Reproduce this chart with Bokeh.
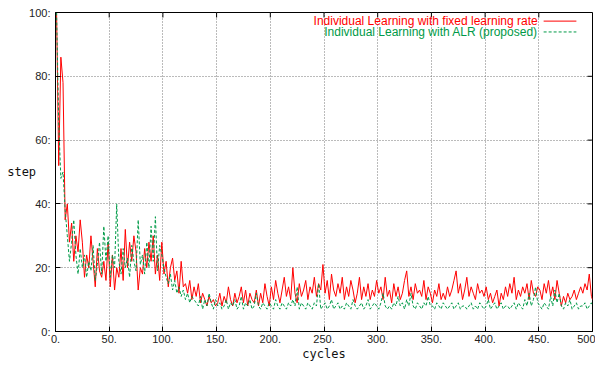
from bokeh.plotting import figure
from bokeh.models import Range1d, FixedTicker, Label
from bokeh.embed import file_html
from bokeh.resources import INLINE

# ---- data ----
cycles = list(range(1, 500, 2)) + [500]

fixed_rate = [
    100, 52, 86, 78, 35,
    40, 28, 34, 22, 30,
    25, 35, 28, 17, 24,
    20, 30, 22, 14, 26,
    19, 17, 22, 16, 28,
    14, 24, 13, 20, 17,
    26, 16, 32, 20, 28,
    22, 30, 25, 13, 20,
    18, 26, 20, 28, 22,
    30, 18, 24, 16, 28,
    18, 22, 14, 20, 23,
    16, 19, 12, 22, 14,
    15, 12, 16, 10, 14,
    11, 15, 9, 12, 10,
    8, 11, 9, 10, 8,
    9, 12, 8, 11, 9,
    14, 10, 8, 12, 9,
    11, 14, 9, 13, 8,
    12, 10, 9, 13, 8,
    12, 9, 15, 11, 8,
    14, 10, 16, 12, 9,
    13, 17, 11, 14, 10,
    20, 12, 9, 15, 11,
    13, 16, 10, 14, 12,
    17, 11, 15, 13, 21,
    12, 16, 10, 18, 13,
    11, 15, 12, 17, 10,
    14, 11, 16, 13, 9,
    12, 17, 10, 14, 11,
    15, 10, 13, 11, 16,
    12, 14, 10, 17, 11,
    13, 9, 15, 11, 14,
    10, 12, 16, 19, 11,
    14, 10, 15, 12, 13,
    11, 16, 10, 14, 12,
    9, 13, 11, 15, 10,
    12, 10, 14, 11, 13,
    16, 19, 12, 15, 10,
    13, 17, 11, 14, 12,
    10, 15, 12, 13, 11,
    14, 10, 12, 9, 11,
    13, 8, 12, 10, 14,
    11, 15, 12, 17, 10,
    13, 11, 14, 12, 15,
    10, 16, 12, 11, 14,
    13, 10, 15, 12, 16,
    11, 14, 10, 16, 12,
    8, 11, 9, 12, 10,
    11, 13, 10, 12, 14,
    12, 15, 13, 18, 11,
    10,
]

alr = [
    100, 65, 48, 50, 38,
    30, 22, 28, 35, 24,
    18, 26, 20, 24, 17,
    22, 19, 27, 16, 21,
    28, 18, 33, 22, 30,
    17, 24, 20, 40, 22,
    18, 26, 20, 23, 17,
    27, 22, 19, 35, 21,
    24, 18, 28, 20, 33,
    22, 36, 19, 27, 24,
    20, 17, 15, 18, 13,
    16, 12, 14, 11, 13,
    10, 12, 9, 11, 10,
    9, 8, 11, 7, 10,
    8, 12, 9, 7, 10,
    8, 9, 7, 8, 10,
    7, 9, 8, 10, 7,
    8, 11, 7, 9, 8,
    10, 7, 8, 12, 8,
    7, 9, 8, 7, 9,
    8, 7, 10, 8, 7,
    9, 8, 7, 9, 8,
    10, 8, 14, 7, 9,
    8, 7, 9, 8, 7,
    9, 8, 15, 7, 8,
    9, 7, 8, 10, 7,
    8, 9, 7, 8, 7,
    9, 8, 7, 10, 8,
    7, 8, 9, 7, 8,
    10, 7, 8, 9, 8,
    7, 9, 12, 8, 7,
    8, 7, 9, 8, 11,
    8, 9, 7, 10, 8,
    12, 8, 7, 9, 8,
    7, 9, 8, 11, 8,
    8, 7, 9, 8, 7,
    9, 8, 7, 8, 9,
    7, 8, 9, 7, 8,
    8, 7, 8, 9, 7,
    8, 7, 9, 8, 7,
    8, 10, 7, 8, 9,
    7, 8, 9, 7, 8,
    8, 7, 8, 9, 7,
    9, 8, 7, 10, 8,
    12, 8, 10, 14, 9,
    8, 7, 9, 8, 7,
    11, 8, 13, 9, 12,
    8, 7, 9, 8, 10,
    7, 8, 9, 7, 8,
    8, 9, 7, 8, 9,
    8,
]

x_ticks = [0, 50, 100, 150, 200, 250, 300, 350, 400, 450, 500]
x_tick_labels = ["0.", "50.", "100.", "150.", "200.", "250.", "300.", "350.", "400.", "450.", "500"]
y_ticks = [0, 20, 40, 60, 80, 100]
y_tick_labels = ["0:", "20:", "40:", "60:", "80:", "100:"]

series_names = ["Individual Learning with fixed learning rate",
                "Individual Learning with ALR (proposed)"]
RED = "#ff0000"
GREEN = "#009a48"
X_MIN, X_MAX, Y_MIN, Y_MAX = 0, 500, 0, 100

# ---- figure ----
FRAME_W, FRAME_H = 537, 319
p = figure(width=595, height=363, output_backend="svg", toolbar_location=None,
           x_range=Range1d(X_MIN, X_MAX), y_range=Range1d(Y_MIN, Y_MAX),
           min_border_left=55, min_border_right=3, min_border_top=12, min_border_bottom=32)
p.background_fill_color = "white"
p.outline_line_color = "black"
p.outline_line_alpha = 1.0

TICK_FONT = "Liberation Sans"
TITLE_FONT = "DejaVu Sans Mono"

for ax in (p.xaxis[0], p.yaxis[0]):
    ax.axis_line_color = "black"
    ax.major_tick_line_color = "black"
    ax.major_tick_in = 5
    ax.major_tick_out = 0
    ax.minor_tick_line_color = None
    ax.major_label_text_font = TICK_FONT
    ax.major_label_text_font_size = "11px"
    ax.major_label_text_color = "#222222"
    ax.axis_label_text_font = TITLE_FONT
    ax.axis_label_text_font_size = "12px"
    ax.axis_label_text_font_style = "normal"
    ax.axis_label_text_color = "#111111"

p.xaxis[0].ticker = FixedTicker(ticks=x_ticks)
p.xaxis[0].major_label_overrides = {t: s for t, s in zip(x_ticks, x_tick_labels)}
p.xaxis[0].major_label_standoff = 3
p.xaxis[0].axis_label = "cycles"
p.xaxis[0].axis_label_standoff = 1

p.yaxis[0].ticker = FixedTicker(ticks=y_ticks)
p.yaxis[0].major_label_overrides = {t: s for t, s in zip(y_ticks, y_tick_labels)}
p.yaxis[0].major_label_standoff = 5
p.yaxis[0].axis_label = "step"
p.yaxis[0].axis_label_orientation = "horizontal"
p.yaxis[0].axis_label_standoff = -10

p.xgrid.ticker = FixedTicker(ticks=x_ticks)
p.ygrid.ticker = FixedTicker(ticks=y_ticks)
for g in (p.xgrid[0], p.ygrid[0]):
    g.grid_line_color = "#777777"
    g.grid_line_dash = "1 2"
    g.grid_line_width = 1

# mirrored inward ticks on the top and right border (5 px long)
tick_dy = 5 * (Y_MAX - Y_MIN) / FRAME_H
tick_dx = 5 * (X_MAX - X_MIN) / FRAME_W
p.segment(x0=x_ticks, y0=[Y_MAX] * len(x_ticks), x1=x_ticks, y1=[Y_MAX - tick_dy] * len(x_ticks),
          line_color="black", line_width=1)
p.segment(x0=[X_MAX] * len(y_ticks), y0=y_ticks, x1=[X_MAX - tick_dx] * len(y_ticks), y1=y_ticks,
          line_color="black", line_width=1)

# data lines
p.line(cycles, fixed_rate, line_color=RED, line_width=1)
p.line(cycles, alr, line_color=GREEN, line_width=1, line_dash="3 2")

# legend (gnuplot style: text then sample)
p.add_layout(Label(x=449, y=97.3, text=series_names[0], text_align="right", text_baseline="middle",
                   text_font=TICK_FONT, text_font_size="12px", text_color=RED))
p.add_layout(Label(x=449, y=93.9, text=series_names[1], text_align="right", text_baseline="middle",
                   text_font=TICK_FONT, text_font_size="12px", text_color=GREEN))
p.line([454.5, 485], [97.3, 97.3], line_color=RED, line_width=1)
p.line([454.5, 485], [93.9, 93.9], line_color=GREEN, line_width=1, line_dash="3 2")

open("out.html", "w").write(file_html(p, INLINE))
